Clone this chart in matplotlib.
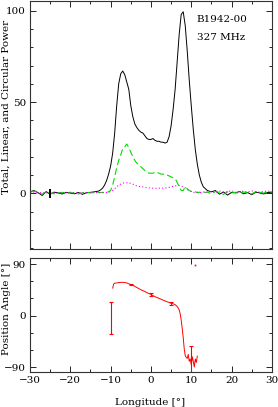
import numpy as np
import matplotlib
matplotlib.use("Agg")
import matplotlib.pyplot as plt
from matplotlib.ticker import MultipleLocator

# --- profile data (longitude in deg, power in % of peak) ---
lon = [-30, -29, -28, -27, -26, -25, -24, -23, -22, -21, -20, -19, -18, -17, -16, -15, -14, -13,
       -12.5, -12, -11.5, -11, -10.5, -10, -9.5, -9, -8.5, -8, -7.5, -7, -6.5, -6, -5.5, -5,
       -4.5, -4, -3.5, -3, -2.5, -2, -1.5, -1, -0.5, 0, 0.5, 1, 1.5, 2, 2.5, 3, 3.5, 4,
       4.5, 5, 5.5, 6, 6.5, 7, 7.5, 8, 8.5, 9, 9.5, 10, 10.5, 11, 11.5, 12, 12.5, 13, 13.5, 14,
       15, 16, 17, 18, 19, 20, 21, 22, 23, 24, 25, 26, 27, 28, 29, 30]

total = [0.8, 1.5, 0.3, -1.2, 0.9, -0.5, 0.6, 0.2, -0.4, 0.5, 0.1, -0.3, 0.4, -0.6, 0.3, 0.5, 0.8, 1.2,
         1.8, 2.8, 4.5, 7.0, 10.5, 15.0, 22.0, 33.0, 48.0, 60.0, 65.5, 67.0, 65.0, 61.0, 57.0, 48.0,
         42.0, 38.0, 36.0, 34.5, 33.5, 33.0, 31.5, 30.0, 29.5, 29.5, 30.0, 29.0, 28.5, 28.5, 28.0, 28.0, 27.5, 28.0,
         31.0, 37.0, 46.0, 57.0, 72.0, 87.0, 98.0, 99.5, 92.0, 78.0, 62.0, 48.0, 35.0, 24.0, 16.0, 10.0, 6.0, 3.5, 2.5, 1.5,
         0.8, 1.5, -0.5, 0.7, -1.0, 0.5, 0.2, 1.0, -0.3, 0.4, -0.8, 0.6, 0.2, -0.4, 0.5, 0.3]

linear = [0.6, 1.2, 0.4, -0.5, 0.8, 0.2, -0.3, 0.3, 0.5, -0.2, 0.4, 0.1, -0.4, 0.3, 0.6, 0.2, 0.5, 0.4,
          0.3, 0.5, 0.4, 0.6, 0.8, 1.5, 4.5, 9.0, 14.0, 18.0, 21.0, 24.5, 25.5, 27.0, 25.0, 22.5,
          20.0, 18.0, 16.5, 15.5, 14.5, 13.5, 12.5, 11.5, 11.0, 11.0, 11.0, 11.5, 11.5, 11.0, 10.5, 10.5, 10.0, 10.0,
          9.5, 9.0, 8.5, 8.0, 6.0, 3.5, 1.5, 1.5, 3.5, 2.5, 1.5, 1.0, 0.5, 0.8, 0.3, 0.6, 0.2, 0.9, 0.4, 0.7,
          -0.3, 1.0, 0.4, -0.6, 0.8, 0.2, 0.5, -0.2, 0.7, 0.3, -0.4, 0.9, 0.5, 0.1, 1.1, 0.6]

circular = [0.3, 0.6, 0.2, 0.4, 0.1, 0.5, 0.3, -0.1, 0.4, 0.2, 0.6, 0.3, 0.2, 0.5, 0.1, 0.4, 0.3, 0.5,
            0.4, 0.3, 0.5, 0.4, 0.5, 1.0, 1.5, 2.5, 3.5, 4.5, 5.0, 5.5, 5.8, 5.8, 5.5, 5.5,
            5.0, 4.5, 4.0, 3.8, 3.6, 3.5, 3.3, 3.0, 3.0, 2.8, 2.8, 2.7, 2.7, 2.8, 2.8, 2.8, 2.9, 3.0,
            3.2, 3.5, 3.8, 4.0, 4.2, 4.3, 4.0, 3.5, 3.0, 2.0, 1.5, 1.0, 0.5, 0.4, 0.6, 0.3, 0.5, 0.7, 0.4, 0.6,
            0.9, 0.4, 1.2, 0.6, 0.8, 1.4, 0.5, 0.9, 1.1, 0.7, 1.3, 0.8, 0.6, 1.0, 1.2, 0.9]

# --- position angle data (deg) ---
pa_lon = [-9.5, -9.25, -9, -8.5, -8, -7.5, -7, -6.5, -6, -5.5, -5, -4.5, -4, -3.5, -3, -2.5, -2, -1.5,
          -1, -0.5, 0, 0.5, 1, 1.5, 2, 2.5, 3, 3.5, 4, 4.5, 5, 5.5, 6, 6.5, 7, 7.25, 7.5, 7.75,
          8, 8.25, 8.5, 8.75, 9, 9.25, 9.5, 9.75, 10, 10.25, 10.5, 10.75, 11, 11.25, 11.5]
pa = [48, 55, 56.5, 57, 57.5, 58, 58, 57.5, 57, 55.5, 54, 53, 51, 49, 47, 45, 43.5, 42,
      40, 38.5, 37, 35, 33, 31.5, 30, 28.5, 27, 25.5, 24, 23, 21.5, 20.5, 19, 16, 10, 3, -8, -22,
      -38, -58, -70, -73, -75, -68, -80, -76, -86, -72, -80, -90, -76, -82, -71]

# points with visible error bars
pa_err_lon = [-10, -5, 0, 5, 10]
pa_err_val = [-4.5, 54, 37, 21.5, -88]
pa_err = [28.5, 1.5, 2.5, 2.5, 35]

# lone point near the top
pa_dot_lon = [11]
pa_dot_val = [88]

plt.rcParams['font.family'] = ['DejaVu Serif']
plt.rcParams['font.size'] = 7.5

fig = plt.figure(figsize=(2.78, 4.07), dpi=100)
ax1 = fig.add_axes([0.108, 0.388, 0.870, 0.610])
ax2 = fig.add_axes([0.108, 0.086, 0.870, 0.280])

ax1.plot(lon, total, color='black', lw=0.7)
ax1.plot(lon, linear, color='#00dd00', lw=0.8, ls=(0, (6, 3)))
ax1.plot(lon, circular, color='#ff00ff', lw=0.8, ls=(0, (1, 2)))
ax1.errorbar([-25], [0], yerr=[2.5], color='black', lw=1.4, capsize=0)

ax1.text(11.4, 95, 'B1942-00', va='center', ha='left')
ax1.text(11.4, 85.5, '327 MHz', va='center', ha='left')

ax1.set_xlim(-30, 30)
ax1.set_ylim(-30.6, 105.5)
ax1.xaxis.set_major_locator(MultipleLocator(10))
ax1.xaxis.set_minor_locator(MultipleLocator(5))
ax1.yaxis.set_major_locator(MultipleLocator(50))
ax1.yaxis.set_minor_locator(MultipleLocator(10))
ax1.tick_params(labelbottom=False)

ax2.plot(pa_lon, pa, color='red', lw=0.7)
ax2.errorbar(pa_err_lon, pa_err_val, yerr=pa_err, fmt='none', ecolor='red',
             elinewidth=0.8, capsize=1.5, capthick=0.8)
ax2.plot(pa_dot_lon, pa_dot_val, ls='none', marker='s', ms=1.2, color='red', mec='none')
ax2.set_xlim(-30, 30)
ax2.set_ylim(-98.7, 100.5)
ax2.xaxis.set_major_locator(MultipleLocator(10))
ax2.xaxis.set_minor_locator(MultipleLocator(5))
ax2.yaxis.set_major_locator(MultipleLocator(90))
ax2.yaxis.set_minor_locator(MultipleLocator(30))

for ax in (ax1, ax2):
    ax.tick_params(which='both', direction='in', top=True, right=True, width=0.6)
    ax.tick_params(which='major', length=4, pad=3)
    ax.tick_params(which='minor', length=2)
    for sp in ax.spines.values():
        sp.set_linewidth(0.8)
        sp.set_color('#333333')

fig.text(0.022, 0.737, 'Total, Linear, and Circular Power', rotation=90, ha='center', va='center')
fig.text(0.022, 0.241, 'Position Angle [°]', rotation=90, ha='center', va='center')
fig.text(0.54, 0.012, 'Longitude [°]', ha='center', va='center')

fig.savefig('out.png', dpi=100)
